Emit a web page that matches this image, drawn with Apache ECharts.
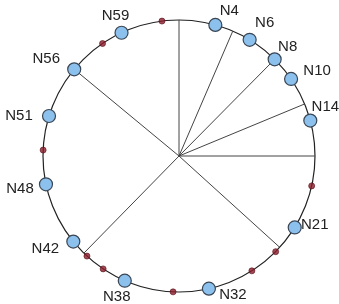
<!DOCTYPE html>
<html>
<head>
<meta charset="utf-8">
<script src="https://cdn.jsdelivr.net/npm/echarts@6/dist/echarts.min.js"></script>
<style>
html, body { margin: 0; padding: 0; background: #fff; }
#main { width: 339px; height: 304px; }
</style>
</head>
<body>
<div id="main"></div>
<script>
// ring positions, degrees clockwise from the top
var nodeNames = ['N4', 'N6', 'N8', 'N10', 'N14', 'N21', 'N32', 'N38', 'N42', 'N48', 'N51', 'N56', 'N59'];
var nodeAngles = [15.5, 31.3, 44.7, 55.5, 74.9, 121.7, 167.3, 203.5, 231, 258, 287.1, 309.6, 335];
var keyAngles = [102.7, 134.7, 147.6, 182.5, 213.9, 222.6, 272.5, 325.8, 352.8];
var spokeAngles = [0, 23.3, 44.7, 67.5, 90, 132.2, 224.4, 309.6];

// label offsets from the node centre (style only)
var labelOffsets = [[14, -14], [15, -17], [13, -12], [26, -8], [15, -14], [20, -3], [24, 6],
    [-8, 16], [-28, 7], [-26, 5], [-30, 0], [-28, -10], [-6, -17]];

var myChart = echarts.init(document.getElementById('main'));

var series = spokeAngles.map(function (a) {
    return {
        type: 'line',
        coordinateSystem: 'polar',
        symbol: 'none',
        silent: true,
        z: 1,
        lineStyle: { color: '#444', width: 1 },
        data: [[0, a], [1, a]]
    };
});

series.push({
    type: 'scatter',
    coordinateSystem: 'polar',
    symbolSize: 6,
    z: 3,
    itemStyle: { color: '#8b1c2b', borderColor: '#5a1018', borderWidth: 0.8 },
    data: keyAngles.map(function (a) { return [1, a]; })
});

series.push({
    type: 'scatter',
    coordinateSystem: 'polar',
    symbolSize: 13,
    z: 4,
    itemStyle: { color: '#8cc1ee', borderColor: '#3a4654', borderWidth: 1.2, opacity: 1 },
    label: {
        show: true,
        position: 'inside',
        formatter: '{b}',
        color: '#222',
        fontSize: 15,
        fontFamily: 'Liberation Sans, Arial, sans-serif'
    },
    data: nodeNames.map(function (n, i) {
        return { name: n, value: [1, nodeAngles[i]], label: { offset: labelOffsets[i] } };
    })
});

option = {
    animation: false,
    polar: { center: [179, 156], radius: 136 },
    angleAxis: {
        type: 'value',
        min: 0,
        max: 360,
        startAngle: 90,
        clockwise: true,
        axisLine: { lineStyle: { color: '#222', width: 1.2 } },
        axisTick: { show: false },
        axisLabel: { show: false },
        splitLine: { show: false }
    },
    radiusAxis: { type: 'value', min: 0, max: 1, show: false },
    series: series
};
myChart.setOption(option);
</script>
</body>
</html>
